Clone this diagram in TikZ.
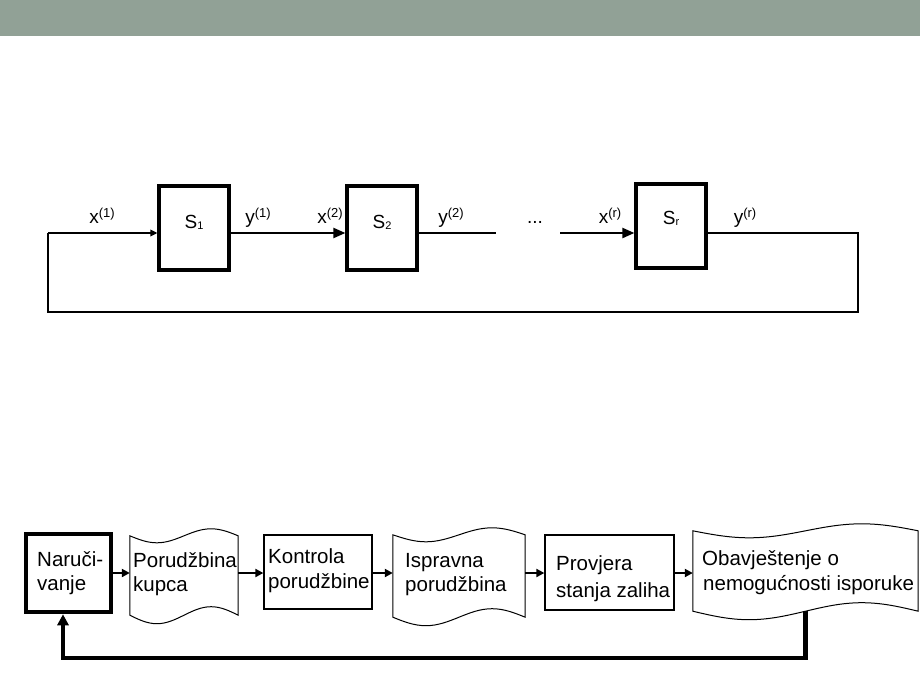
\documentclass[tikz,border=0pt]{standalone}
\usepackage{fontspec}
\setmainfont{Liberation Sans}
\usetikzlibrary{arrows.meta,calc}
\definecolor{bandgray}{RGB}{145,161,150}

% superscript / subscript in the text font
\newcommand\supidx[1]{\raisebox{5.5pt}{\fontsize{13}{13}\selectfont(#1)}}
\newcommand\subidx[1]{\raisebox{-1.5pt}{\fontsize{11}{11}\selectfont #1}}

% punched-tape outline drawn over an empty node: #1 node, #2 top wave, #3 bottom wave
\newcommand\tapeoutline[3]{%
  \draw[tapeline] (#1.north west)
    sin ($(#1.north west)!.25!(#1.north east)+(0,#2)$)
    cos ($(#1.north west)!.5!(#1.north east)$)
    sin ($(#1.north west)!.75!(#1.north east)+(0,-#2)$)
    cos (#1.north east)
    -- (#1.south east)
    sin ($(#1.south west)!.75!(#1.south east)+(0,-#3)$)
    cos ($(#1.south west)!.5!(#1.south east)$)
    sin ($(#1.south west)!.25!(#1.south east)+(0,#3)$)
    cos (#1.south west)
    -- cycle;}

\tikzset{
  sysbox/.style={draw, line width=3.2pt, minimum width=70pt, minimum height=84pt, inner sep=0pt},
  sig/.style={line width=2.2pt},
  thinsig/.style={line width=1.3pt},
  loopline/.style={line width=2.6pt},
  smalltip/.style={-{Triangle[length=7pt,width=6.5pt]}},
  bigtip/.style={-{Triangle[length=12pt,width=10pt]}},
  lab/.style={font=\fontsize{19}{23}\selectfont, inner sep=0pt, anchor=base},
  txt/.style={font=\fontsize{20.5}{24}\selectfont, inner sep=0pt, anchor=base west},
  procbox/.style={draw, line width=1.3pt, inner sep=0pt},
  heavybox/.style={draw, line width=4.5pt, inner sep=0pt},
  tapenode/.style={inner sep=0pt},
  tapeline/.style={line width=1pt},
  flow/.style={line width=2.4pt, -{Triangle[length=8pt,width=8pt]}},
  backflow/.style={line width=4.2pt, -{Triangle[length=11pt,width=11pt]}}
}

\begin{document}
\begin{tikzpicture}[x=1pt,y=-1pt]
\useasboundingbox (0,0) rectangle (920,690);
\fill[bandgray] (0,0) rectangle (920,36);

% ---------- chain of systems S1 ... Sr ----------
\node[sysbox] (s1) at (194,228) {};
\node[sysbox] (s2) at (382,228) {};
\node[sysbox] (sr) at (671,226) {};
\node[lab] (s1t) at (s1.center) {S\subidx{1}};
\node[lab] (s2t) at (s2.center) {S\subidx{2}};
\node[lab] (srt) at ($(sr.center)+(0,-2)$) {S\subidx{r}};

\coordinate (inL) at (48,233);
\coordinate (gapA) at (496,233);
\coordinate (gapB) at (560,233);
\coordinate (outR) at (858,233);
\coordinate (loopR) at (858,312);
\coordinate (loopL) at (48,312);

\draw[sig, smalltip] (inL) -- (inL -| s1.west);
\draw[sig, bigtip] (s1.east |- inL) -- (s2.west |- inL);
\draw[thinsig] (s2.east |- inL) -- (gapA);
\draw[sig, bigtip] (gapB) -- (gapB -| sr.west);
\draw[loopline] (sr.east |- outR) -- (outR) -- (loopR) -- (loopL) -- (inL);

\node[lab] (x1) at (102,223) {x\supidx{1}};
\node[lab] (y1) at (258,223) {y\supidx{1}};
\node[lab] (x2) at (330,223) {x\supidx{2}};
\node[lab] (y2) at (451,223) {y\supidx{2}};
\node[lab] (dots) at (535,223) {...};
\node[lab] (xr) at (610,223) {x\supidx{r}};
\node[lab] (yr) at (745,223) {y\supidx{r}};

% ---------- order handling flow ----------
\node[heavybox, minimum width=85pt, minimum height=78pt] (nar) at (68.5,573) {};
\node[tapenode, minimum width=108pt, minimum height=79pt] (por) at (184,575.5) {};
\node[procbox, minimum width=108pt, minimum height=74pt] (kon) at (318,572) {};
\node[tapenode, minimum width=132pt, minimum height=82pt] (isp) at (459,576) {};
\node[procbox, minimum width=129pt, minimum height=75pt] (pro) at (609.5,572.5) {};
\node[tapenode, minimum width=225pt, minimum height=80pt] (oba) at (805.5,571) {};

\tapeoutline{por}{7}{8.5}
\tapeoutline{isp}{7}{8.5}
\tapeoutline{oba}{7}{8.5}

\node[txt] (nar1) at (37,566) {Naruči-};
\node[txt] (nar2) at (37,590) {vanje};
\node[txt] (por1) at (133,567) {Porudžbina};
\node[txt] (por2) at (133,591) {kupca};
\node[txt] (kon1) at (268,563) {Kontrola};
\node[txt] (kon2) at (268,588) {porudžbine};
\node[txt] (isp1) at (405,567) {Ispravna};
\node[txt] (isp2) at (405,591) {porudžbina};
\node[txt] (pro1) at (556,570) {Provjera};
\node[txt] (pro2) at (556,597) {stanja zaliha};
\node[txt] (oba1) at (702,565) {Obavještenje o};
\node[txt] (oba2) at (703,590) {nemogućnosti isporuke};

\coordinate (row) at (0,573);
\draw[flow] (nar.east |- row) -- (por.west |- row);
\draw[flow] (por.east |- row) -- (kon.west |- row);
\draw[flow] (kon.east |- row) -- (isp.west |- row);
\draw[flow] (isp.east |- row) -- (pro.west |- row);
\draw[flow] (pro.east |- row) -- (oba.west |- row);

\coordinate (fbturn) at (63,658);
\draw[backflow] (oba.south) |- (fbturn) -- (fbturn |- nar.south);
\end{tikzpicture}
\end{document}
